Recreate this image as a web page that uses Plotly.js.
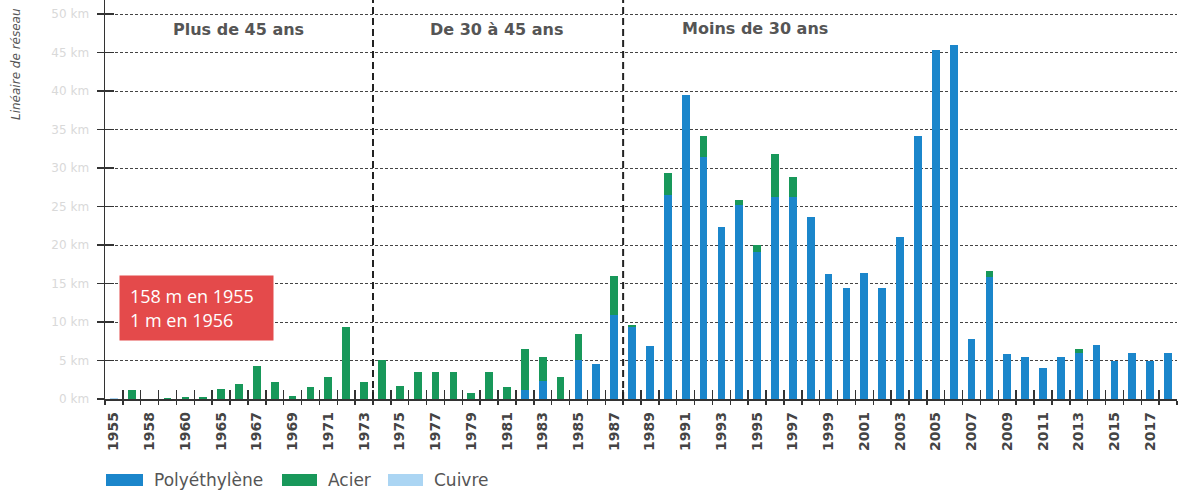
<!DOCTYPE html>
<html>
<head>
<meta charset="utf-8">
<script src="https://cdn.plot.ly/plotly-3.0.1.min.js"></script>
<style>html,body{margin:0;padding:0;background:#fff;}#chart{width:1179px;height:491px;}</style>
</head>
<body>
<div id="chart"></div>
<script>
// ---- Data (km) ----
const years = ['1955','1957','1958','1959','1960','1963',
  '1965','1966','1967','1968','1969','1970','1971','1972','1973','1974','1975','1976','1977','1978','1979',
  '1980','1981','1982','1983','1984','1985','1986','1987','1988','1989','1990','1991','1992','1993','1994',
  '1995','1996','1997','1998','1999','2000','2001','2002','2003','2004','2005','2006','2007','2008','2009',
  '2010','2011','2012','2013','2014','2015','2016','2017','2018'];

const tickLabels = ['1955','','1958','','1960','',
  '1965','','1967','','1969','','1971','','1973','','1975','','1977','','1979',
  '','1981','','1983','','1985','','1987','','1989','','1991','','1993','',
  '1995','','1997','','1999','','2001','','2003','','2005','','2007','','2009',
  '','2011','','2013','','2015','','2017',''];

const polyethylene = [0,0,0,0,0,0,
  0,0,0,0,0,0,0,0,0,0,0,0,0,0,0,
  0,0,1.15,2.4,0,5.05,4.6,10.9,9.4,6.9,26.5,39.5,31.4,22.3,25.2,
  19.1,26.3,26.2,23.6,16.2,14.4,16.4,14.4,21.1,34.2,45.3,46.0,7.8,15.9,5.8,
  5.5,4.0,5.5,6.0,7.0,5.0,6.0,5.0,6.0];

const acier = [0,1.2,0.05,0.1,0.2,0.3,
  1.25,2.0,4.3,2.15,0.35,1.6,2.9,9.4,2.25,5.05,1.65,3.45,3.45,3.45,0.75,
  3.45,1.5,5.3,3.1,2.8,3.4,0,5.1,0.25,0,2.9,0,2.8,0,0.7,
  0.9,5.5,2.6,0,0,0,0,0,0,0,0,0,0,0.7,0,
  0,0,0,0.55,0,0,0,0,0];

const cuivre = [0.158,0,0,0,0,0,
  0,0,0,0,0,0,0,0,0,0,0,0,0,0,0,
  0,0,0,0,0,0,0,0,0,0,0,0,0,0,0,
  0,0,0,0,0,0,0,0,0,0,0,0,0,0,0,
  0,0,0,0,0,0,0,0,0];

const seriesNames = ['Polyéthylène','Acier','Cuivre'];
const sectionLabels = ['Plus de 45 ans','De 30 à 45 ans','Moins de 30 ans'];
const yTickVals = [0,5,10,15,20,25,30,35,40,45,50];
const yTickText = ['0 km','5 km','10 km','15 km','20 km','25 km','30 km','35 km','40 km','45 km','50 km'];
const noteText = '158 m en 1955<br>1 m en 1956';

// ---- Styles ----
const COL_POLY = '#1b86cb', COL_ACIER = '#18985a', COL_CUIVRE = '#abd5f3';
const PL = 105, PR = 1177, PT = 0, PB = 399;
const px2x = p => (p - PL) / (PR - PL);
const px2y = p => (PB - p) / (PB - PT);

const traces = [
  {type:'bar', x:years, y:polyethylene, name:seriesNames[0], marker:{color:COL_POLY}, showlegend:false},
  {type:'bar', x:years, y:acier, name:seriesNames[1], marker:{color:COL_ACIER}, showlegend:false},
  {type:'bar', x:years, y:cuivre, name:seriesNames[2], marker:{color:COL_CUIVRE}, showlegend:false},
  {type:'scatter', mode:'markers', x:years, y:years.map(()=>0), xaxis:'x2', yaxis:'y2',
   marker:{opacity:0}, hoverinfo:'skip', showlegend:false}
];

const axisDark = '#333';
const layout = {
  width:1179, height:491,
  margin:{l:PL, r:1179-PR, t:PT, b:491-PB},
  paper_bgcolor:'#fff', plot_bgcolor:'#fff',
  barmode:'stack', bargap:0.57,
  showlegend:false,
  font:{family:'DejaVu Sans', color:'#555'},
  xaxis:{type:'category', categoryorder:'array', categoryarray:years,
    range:[-0.5, years.length-0.5],
    tickmode:'array', tickvals:years, ticktext:tickLabels,
    tickson:'boundaries', ticks:'outside', ticklen:4, tickwidth:1.5, tickcolor:axisDark,
    tickangle:-90, ticklabelstandoff:6,
    tickfont:{family:'DejaVu Sans', size:14, color:'#444', weight:'bold'},
    showline:true, linecolor:axisDark, linewidth:1.5, showgrid:false, zeroline:false, fixedrange:true},
  xaxis2:{type:'category', overlaying:'x', categoryorder:'array', categoryarray:years,
    range:[-0.5, years.length-0.5],
    tickmode:'array', tickvals:years, ticktext:years.map(()=>''),
    tickson:'boundaries', ticks:'inside', ticklen:9, tickwidth:1.5, tickcolor:axisDark,
    showticklabels:false, showline:false, showgrid:false, zeroline:false, anchor:'y'},
  yaxis:{range:[0, 51.82], tickmode:'array', tickvals:yTickVals, ticktext:yTickText,
    ticks:'outside', ticklen:7, tickwidth:1.5, tickcolor:axisDark, ticklabelstandoff:5,
    tickfont:{family:'DejaVu Sans', size:12, color:'#d9d9d9'},
    showline:true, linecolor:axisDark, linewidth:1.5,
    showgrid:true, gridcolor:'#444', gridwidth:1, griddash:'3px,2px', zeroline:false},
  yaxis2:{range:[0, 51.82], overlaying:'y', tickmode:'array', tickvals:yTickVals,
    ticks:'inside', ticklen:9, tickwidth:1.5, tickcolor:axisDark,
    showticklabels:false, showgrid:false, showline:false, zeroline:false, anchor:'x'},
  shapes:[
    {type:'line', xref:'x', yref:'paper', x0:14.5, x1:14.5, y0:0, y1:1,
     line:{color:'#222', width:2, dash:'7px,4px'}},
    {type:'line', xref:'x', yref:'paper', x0:28.5, x1:28.5, y0:0, y1:1,
     line:{color:'#222', width:2, dash:'7px,4px'}},
    // legend swatches
    {type:'rect', xref:'paper', yref:'paper', x0:px2x(106), x1:px2x(143), y0:px2y(486), y1:px2y(474),
     fillcolor:COL_POLY, line:{width:0}},
    {type:'rect', xref:'paper', yref:'paper', x0:px2x(282), x1:px2x(317), y0:px2y(486), y1:px2y(474),
     fillcolor:COL_ACIER, line:{width:0}},
    {type:'rect', xref:'paper', yref:'paper', x0:px2x(388), x1:px2x(423), y0:px2y(486), y1:px2y(474),
     fillcolor:COL_CUIVRE, line:{width:0}}
  ],
  annotations:[
    {text:sectionLabels[0], xref:'paper', yref:'paper', x:px2x(238), y:px2y(29), showarrow:false,
     xanchor:'center', yanchor:'middle', font:{family:'DejaVu Sans', size:16, color:'#555', weight:'bold'}},
    {text:sectionLabels[1], xref:'paper', yref:'paper', x:px2x(496), y:px2y(29), showarrow:false,
     xanchor:'center', yanchor:'middle', font:{family:'DejaVu Sans', size:16, color:'#555', weight:'bold'}},
    {text:sectionLabels[2], xref:'paper', yref:'paper', x:px2x(755), y:px2y(28), showarrow:false,
     xanchor:'center', yanchor:'middle', font:{family:'DejaVu Sans', size:16, color:'#555', weight:'bold'}},
    {text:noteText, xref:'paper', yref:'paper', x:px2x(119), y:px2y(275), showarrow:false,
     xanchor:'left', yanchor:'top', align:'left', valign:'middle',
     width:133, height:44, borderpad:10, bgcolor:'#e44a4b',
     font:{family:'Open Sans', size:18, color:'#fff'}},
    {text:'<i>Linéaire de réseau</i>', xref:'paper', yref:'paper', x:px2x(16), y:px2y(6), showarrow:false,
     textangle:-90, xanchor:'center', yanchor:'top', font:{family:'DejaVu Sans', size:12, color:'#555'}},
    {text:seriesNames[0], xref:'paper', yref:'paper', x:px2x(152), y:px2y(480), showarrow:false,
     xanchor:'left', yanchor:'middle', font:{family:'DejaVu Sans', size:17, color:'#555'}},
    {text:seriesNames[1], xref:'paper', yref:'paper', x:px2x(326), y:px2y(480), showarrow:false,
     xanchor:'left', yanchor:'middle', font:{family:'DejaVu Sans', size:17, color:'#555'}},
    {text:seriesNames[2], xref:'paper', yref:'paper', x:px2x(432), y:px2y(480), showarrow:false,
     xanchor:'left', yanchor:'middle', font:{family:'DejaVu Sans', size:17, color:'#555'}}
  ]
};

Plotly.newPlot('chart', traces, layout, {displayModeBar:false, staticPlot:true});
</script>
</body>
</html>
